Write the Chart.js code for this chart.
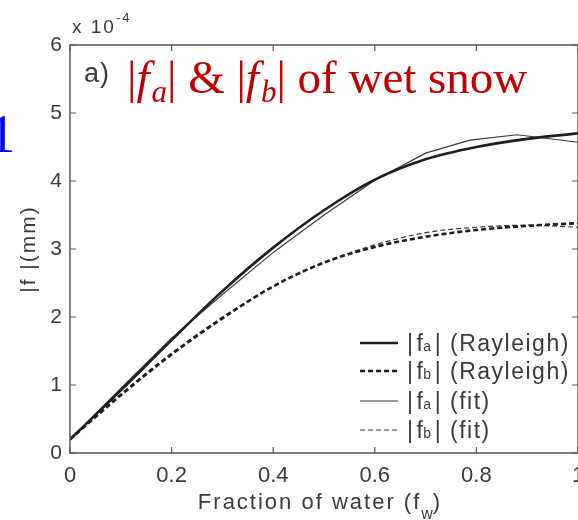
<!DOCTYPE html>
<html>
<head>
<meta charset="utf-8">
<script src="https://cdn.jsdelivr.net/npm/chart.js@4.4.1/dist/chart.umd.min.js"></script>
<style>
  html, body { margin: 0; padding: 0; background: #fff; }
  canvas { display: block; }
</style>
</head>
<body>
<canvas id="chart" width="578" height="520"></canvas>
<script>
// fraction of water (x) and |f| values in units of 1e-4 mm
const fw = [0, 0.1, 0.2, 0.3, 0.4, 0.5, 0.6, 0.7, 0.8, 0.9, 1.0];
const faRayleigh = [0.2, 0.92, 1.66, 2.38, 3.02, 3.57, 4.02, 4.32, 4.5, 4.62, 4.7];
const fbRayleigh = [0.2, 0.85, 1.45, 1.98, 2.45, 2.8, 3.03, 3.18, 3.28, 3.34, 3.38];
const fwFitA = [0, 0.1, 0.2, 0.3, 0.4, 0.5, 0.6, 0.7, 0.787, 0.88, 1.0];
const faFit = [0.2, 0.95, 1.69, 2.33, 2.95, 3.5, 4.01, 4.41, 4.6, 4.68, 4.57];
const fbFit = [0.2, 0.87, 1.47, 2.0, 2.45, 2.8, 3.06, 3.24, 3.32, 3.35, 3.32];
const xTicks = [0, 0.2, 0.4, 0.6, 0.8, 1];
const yTicks = [0, 1, 2, 3, 4, 5, 6];

const axisColor = '#5a5a5a';
const textColor = '#3a3a3a';
const sans = '"Liberation Sans", Arial, sans-serif';
const serif = '"Liberation Serif", "Times New Roman", serif';

function pts(xs, ys) {
  return xs.map((x, i) => ({ x: x, y: ys[i] }));
}

// draw a run of text pieces, each with its own font and baseline shift
function drawRuns(ctx, x, y, runs, color, spacing) {
  ctx.fillStyle = color;
  ctx.textBaseline = 'alphabetic';
  ctx.textAlign = 'left';
  ctx.letterSpacing = (spacing || 0) + 'px';
  runs.forEach(r => {
    ctx.font = r.font;
    ctx.fillText(r.t, x, y + (r.dy || 0));
    x += ctx.measureText(r.t).width + (r.gap || 0);
  });
  ctx.letterSpacing = '0px';
  return x;
}

function runsWidth(ctx, runs, spacing) {
  ctx.letterSpacing = (spacing || 0) + 'px';
  let w = 0;
  runs.forEach(r => { ctx.font = r.font; w += ctx.measureText(r.t).width + (r.gap || 0); });
  ctx.letterSpacing = '0px';
  return w;
}

const frame = {
  id: 'frame',
  afterDraw(chart) {
    const ctx = chart.ctx;
    const a = chart.chartArea;
    const xs = chart.scales.x, ys = chart.scales.y;
    ctx.save();
    ctx.strokeStyle = axisColor;
    ctx.lineWidth = 1.5;
    ctx.strokeRect(a.left, a.top, a.right - a.left, a.bottom - a.top);
    // inward ticks on all four sides
    ctx.lineWidth = 1.2;
    ctx.beginPath();
    xTicks.forEach(v => {
      const px = xs.getPixelForValue(v);
      ctx.moveTo(px, a.bottom); ctx.lineTo(px, a.bottom - 6);
      ctx.moveTo(px, a.top); ctx.lineTo(px, a.top + 6);
    });
    yTicks.forEach(v => {
      const py = ys.getPixelForValue(v);
      ctx.moveTo(a.left, py); ctx.lineTo(a.left + 6, py);
      ctx.moveTo(a.right, py); ctx.lineTo(a.right - 6, py);
    });
    ctx.stroke();

    // exponent above the y axis
    drawRuns(ctx, 72, 33, [
      { t: 'x 10', font: '19px ' + sans, gap: 0 },
      { t: '-4', font: '13px ' + sans, dy: -11 }
    ], textColor, 2);

    // axis titles
    const xRuns = [
      { t: 'Fraction of water (f', font: '22px ' + sans },
      { t: 'w', font: '16px ' + sans, dy: 10, gap: -2 },
      { t: ')', font: '22px ' + sans }
    ];
    const xw = runsWidth(ctx, xRuns, 2);
    drawRuns(ctx, 320 - xw / 2, 509, xRuns, textColor, 2);

    ctx.save();
    ctx.translate(35, 249);
    ctx.rotate(-Math.PI / 2);
    const yRuns = [{ t: '|f |(mm)', font: '21px ' + sans }];
    const yw = runsWidth(ctx, yRuns, 2);
    drawRuns(ctx, -yw / 2, 0, yRuns, textColor, 2);
    ctx.restore();

    // panel label and red title
    drawRuns(ctx, 84, 82, [{ t: 'a)', font: '27px ' + sans }], textColor, 1);
    const red = '#c00000';
    const big = '47px ' + serif;
    const bigI = 'italic 47px ' + serif;
    const sub = 'italic 31px ' + serif;
    drawRuns(ctx, 127, 93, [
      { t: '|', font: big },
      { t: 'f', font: bigI, gap: 2 },
      { t: 'a', font: sub, dy: 9 },
      { t: '|', font: big },
      { t: ' & ', font: big },
      { t: '|', font: big },
      { t: 'f', font: bigI, gap: 2 },
      { t: 'b', font: sub, dy: 9 },
      { t: '|', font: big },
      { t: ' of wet snow', font: big }
    ], red);

    // clipped blue glyph at the left edge
    drawRuns(ctx, -12, 152, [{ t: '1', font: '55px ' + serif }], '#0000ff');

    // legend
    const rows = [
      { s: 'a', lab: 'Rayleigh', w: 2.6, dash: [], c: '#1e1e1e' },
      { s: 'b', lab: 'Rayleigh', w: 2.6, dash: [5, 3], c: '#1e1e1e' },
      { s: 'a', lab: 'fit', w: 1.2, dash: [], c: '#3a3a3a' },
      { s: 'b', lab: 'fit', w: 1.2, dash: [5, 3], c: '#3a3a3a' }
    ];
    const rowY = [343, 371, 401, 430];
    rows.forEach((r, i) => {
      const y = rowY[i];
      ctx.strokeStyle = r.c;
      ctx.lineWidth = r.w;
      ctx.setLineDash(r.dash);
      ctx.beginPath();
      ctx.moveTo(360, y); ctx.lineTo(398, y);
      ctx.stroke();
      ctx.setLineDash([]);
      drawRuns(ctx, 407, y + 8, [
        { t: '|', font: '23px ' + sans, gap: 2 },
        { t: 'f', font: '23px ' + sans, gap: -1 },
        { t: r.s, font: '14px ' + sans, gap: 2 },
        { t: '|', font: '23px ' + sans },
        { t: ' (' + r.lab + ')', font: '23px ' + sans }
      ], textColor, 1.5);
    });
    ctx.restore();
  }
};

new Chart(document.getElementById('chart'), {
  type: 'line',
  data: {
    datasets: [
      { label: '|fa| (Rayleigh)', data: pts(fw, faRayleigh), borderColor: '#1e1e1e', borderWidth: 2.6, cubicInterpolationMode: 'monotone' },
      { label: '|fb| (Rayleigh)', data: pts(fw, fbRayleigh), borderColor: '#1e1e1e', borderWidth: 2.6, borderDash: [5, 3], cubicInterpolationMode: 'monotone' },
      { label: '|fa| (fit)', data: pts(fwFitA, faFit), borderColor: '#3a3a3a', borderWidth: 1.2, tension: 0 },
      { label: '|fb| (fit)', data: pts(fw, fbFit), borderColor: '#3a3a3a', borderWidth: 1.2, borderDash: [5, 3], cubicInterpolationMode: 'monotone' }
    ]
  },
  options: {
    responsive: false,
    animation: false,
    elements: { point: { radius: 0 } },
    layout: { padding: { left: 0, top: 45, right: 0, bottom: 0 } },
    plugins: { legend: { display: false }, tooltip: { enabled: false } },
    scales: {
      x: {
        type: 'linear', min: 0, max: 1,
        grid: { display: false, drawTicks: false }, border: { display: false },
        afterBuildTicks: s => { s.ticks = xTicks.map(v => ({ value: v })); },
        ticks: { color: textColor, font: { family: sans, size: 22 }, padding: 10, maxRotation: 0,
          callback: v => String(v) },
        afterFit: s => { s.height = 67; s.paddingLeft = 0; s.paddingRight = 0; }
      },
      y: {
        min: 0, max: 6,
        grid: { display: false, drawTicks: false }, border: { display: false },
        afterBuildTicks: s => { s.ticks = yTicks.map(v => ({ value: v })); },
        ticks: { color: textColor, font: { family: sans, size: 21 }, padding: 8 },
        afterFit: s => { s.width = 70; s.paddingTop = 0; s.paddingBottom = 0; }
      }
    }
  },
  plugins: [frame]
});
</script>
</body>
</html>
